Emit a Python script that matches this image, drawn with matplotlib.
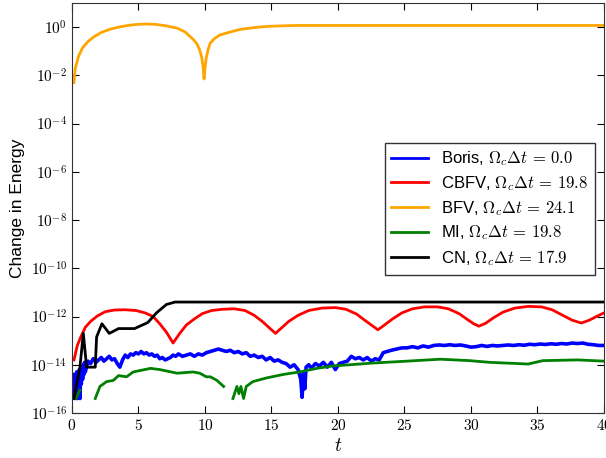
import matplotlib.pyplot as plt
import matplotlib.ticker as mticker
import numpy as np

plt.rcParams['mathtext.fontset'] = 'cm'
plt.rcParams['font.family'] = ['Liberation Sans', 'DejaVu Sans']

# values, stored as log10(change in energy)
t_bfv = [0.15, 0.25, 0.5, 0.8, 1.2, 1.6, 2.2, 2.9, 3.5, 4.1, 4.8, 5.5, 6.2, 7.0, 7.9, 8.5,
         9.1, 9.4, 9.6, 9.75, 9.85, 9.93, 10.0, 10.1, 10.25, 10.4, 10.7, 11.1, 11.9, 12.6,
         13.5, 14.4, 15.5, 16.9, 20.0, 40.0]
e_bfv = [-2.3, -1.7, -1.2, -0.85, -0.6, -0.42, -0.22, -0.08, 0.0, 0.06, 0.11, 0.13, 0.12, 0.06,
         -0.04, -0.2, -0.5, -0.7, -0.95, -1.25, -1.6, -2.15, -1.7, -1.25, -0.9, -0.66, -0.48,
         -0.33, -0.2, -0.1, -0.03, 0.02, 0.05, 0.07, 0.07, 0.07]

t_cbfv = [0.15, 0.4, 0.7, 1.0, 1.4, 1.9, 2.5, 3.2, 4.0, 4.8, 5.5, 6.1, 6.6, 7.1, 7.6, 8.1,
          8.6, 9.2, 9.8, 10.5, 11.3, 12.2, 13.0, 13.7, 14.3, 14.8, 15.3, 15.8, 16.3, 17.0,
          17.8, 18.8, 19.8, 20.6, 21.4, 22.0, 22.5, 23.0, 23.5, 24.1, 24.8, 25.6, 26.5, 27.5,
          28.3, 29.1, 29.8, 30.2, 30.6, 31.1, 31.7, 32.4, 33.3, 34.3, 35.3, 36.1, 36.9, 37.6,
          38.3, 38.9, 39.5, 40.0]
e_cbfv = [-13.8, -13.2, -12.8, -12.45, -12.2, -11.98, -11.8, -11.73, -11.72, -11.75, -11.85,
          -12.0, -12.3, -12.65, -13.1, -12.7, -12.35, -12.1, -11.88, -11.75, -11.7, -11.68,
          -11.75, -11.95, -12.2, -12.45, -12.7, -12.45, -12.2, -11.95, -11.75, -11.65, -11.63,
          -11.7, -11.9, -12.15, -12.35, -12.55, -12.35, -12.1, -11.85, -11.68, -11.6, -11.6,
          -11.68, -11.88, -12.15, -12.3, -12.4, -12.28, -12.05, -11.82, -11.65, -11.58, -11.6,
          -11.72, -11.95, -12.15, -12.27, -12.15, -11.98, -11.85]

t_cn = [0.15, 0.6, 0.85, 1.1, 1.75, 1.85, 2.25, 2.8, 3.5, 4.7, 5.7, 6.35, 7.1, 7.75, 40.0]
e_cn = [-15.4, -14.1, -12.7, -14.1, -14.1, -12.85, -12.3, -12.7, -12.5, -12.5, -12.25,
        -11.85, -11.5, -11.4, -11.4]

t_boris = [0.1, 0.15, 0.2, 0.25, 0.3, 0.35, 0.4, 0.45, 0.5, 0.55, 0.6, 0.65, 0.7, 0.75, 0.8,
           0.85, 0.9, 0.95, 1.0, 1.2, 1.4, 1.6, 1.8, 2.0, 2.2, 2.4, 2.6, 2.8, 3.0, 3.2, 3.4,
           3.6, 3.8, 4.0, 4.2, 4.4, 4.6, 4.8, 5.0, 5.2, 5.4, 5.6, 5.8, 6.0, 6.2, 6.4, 6.6, 6.8,
           7.0, 7.2, 7.4, 7.6, 7.8, 8.0, 8.3, 8.6, 8.9, 9.2, 9.5, 9.8, 10.1, 10.4, 10.7, 11.0,
           11.3, 11.6, 11.9, 12.2, 12.5, 12.8, 13.1, 13.4, 13.7, 14.0, 14.3, 14.6, 14.9, 15.2,
           15.5, 15.8, 16.1, 16.4, 16.7, 17.0, 17.2, 17.3, 17.4, 17.5, 17.6, 17.8, 18.0, 18.3,
           18.6, 18.9, 19.2, 19.5, 19.8, 20.1, 20.4, 20.7, 21.0, 21.3, 21.6, 21.9, 22.2, 22.5,
           22.8, 23.1, 23.4, 23.7, 24.0, 24.4, 24.8, 25.2, 25.6, 26.0, 26.4, 26.8, 27.2, 27.6,
           28.0, 28.4, 28.8, 29.2, 29.6, 30.0, 30.4, 30.8, 31.2, 31.6, 32.0, 32.4, 32.8, 33.2,
           33.6, 34.0, 34.4, 34.8, 35.2, 35.6, 36.0, 36.4, 36.8, 37.2, 37.6, 38.0, 38.4, 38.8,
           39.2, 39.6, 40.0]
e_boris = [-15.3, -14.4, -15.4, -14.6, -15.2, -14.3, -15.4, -14.5, -14.9, -14.2, -15.4, -14.4,
           -14.8, -14.1, -14.6, -14.0, -14.4, -13.9, -14.3, -13.85, -13.95, -13.75, -13.9,
           -13.8, -13.7, -13.85, -13.75, -13.65, -13.8, -13.75, -13.95, -14.1, -13.8, -13.6,
           -13.7, -13.55, -13.6, -13.5, -13.55, -13.45, -13.55, -13.5, -13.6, -13.55, -13.65,
           -13.6, -13.75, -13.7, -13.8, -13.75, -13.7, -13.6, -13.65, -13.55, -13.65, -13.6,
           -13.55, -13.65, -13.55, -13.6, -13.5, -13.45, -13.4, -13.35, -13.4, -13.45, -13.4,
           -13.5, -13.45, -13.55, -13.5, -13.65, -13.6, -13.7, -13.65, -13.8, -13.7, -13.85,
           -13.8, -13.9, -13.95, -14.1, -14.0, -14.2, -14.6, -15.35, -14.3, -15.0, -14.1, -14.0,
           -14.15, -13.95, -14.05, -13.9, -14.1, -13.9, -14.2, -13.95, -13.9, -13.85, -13.65,
           -13.75, -13.7, -13.8, -13.7, -13.85, -13.75, -13.8, -13.5, -13.45, -13.4, -13.35,
           -13.3, -13.3, -13.25, -13.3, -13.22, -13.27, -13.2, -13.18, -13.2, -13.17, -13.2,
           -13.18, -13.22, -13.27, -13.25, -13.2, -13.24, -13.2, -13.22, -13.2, -13.18, -13.2,
           -13.17, -13.19, -13.15, -13.17, -13.14, -13.16, -13.13, -13.15, -13.12, -13.14,
           -13.1, -13.12, -13.1, -13.15, -13.17, -13.2, -13.2]

# nan = value below the axis (gap in the curve)
t_mi = [0.3, 0.6, 0.7, 1.75, 2.1, 2.6, 3.1, 3.5, 4.1, 4.6, 5.9, 6.6, 7.9, 9.1, 9.6, 10.1,
        10.4, 10.9, 11.4, 11.8, 12.1, 12.4, 12.55, 12.7, 12.9, 13.1, 13.6, 14.6, 15.9, 17.1,
        18.4, 19.6, 20.9, 22.6, 25.2, 27.7, 29.9, 31.4, 34.3, 35.4, 38.0, 40.0]
e_mi = [-15.4, -15.05, np.nan, -15.4, -14.9, -14.7, -14.65, -14.45, -14.5, -14.3, -14.15,
        -14.2, -14.35, -14.3, -14.35, -14.5, -14.5, -14.65, -14.9, np.nan, -15.4, -14.9,
        -15.2, -14.9, -15.4, -14.9, -14.7, -14.55, -14.4, -14.3, -14.15, -14.05, -14.0,
        -13.93, -13.85, -13.77, -13.83, -13.9, -13.97, -13.83, -13.8, -13.85]

labels = [r'Boris, $\Omega_c\Delta t\,=\,0.0$', r'CBFV, $\Omega_c\Delta t\,=\,19.8$',
          r'BFV, $\Omega_c\Delta t\,=\,24.1$', r'MI, $\Omega_c\Delta t\,=\,19.8$',
          r'CN, $\Omega_c\Delta t\,=\,17.9$']

fig = plt.figure(figsize=(6.06, 4.58), dpi=100)
ax = fig.add_axes([0.1188, 0.0983, 0.8779, 0.8951])

ax.semilogy(t_boris, 10.0 ** np.array(e_boris), color='blue', lw=2.6, label=labels[0])
ax.semilogy(t_cbfv, 10.0 ** np.array(e_cbfv), color='red', lw=2, label=labels[1])
ax.semilogy(t_bfv, 10.0 ** np.array(e_bfv), color='orange', lw=2, label=labels[2])
ax.semilogy(t_mi, 10.0 ** np.array(e_mi), color='green', lw=2, label=labels[3])
ax.semilogy(t_cn, 10.0 ** np.array(e_cn), color='black', lw=2, label=labels[4])

ax.set_xlim(0, 40)
ax.set_ylim(1e-16, 1e1)
ax.set_yticks([10.0 ** k for k in range(-16, 1, 2)])
ax.yaxis.set_minor_locator(mticker.NullLocator())
ax.yaxis.set_major_formatter(
    mticker.FuncFormatter(lambda v, p: r'$10^{%d}$' % int(round(np.log10(v)))))
ax.set_xticks(range(0, 41, 5))
ax.xaxis.set_major_formatter(mticker.FuncFormatter(lambda v, p: f'${v:g}$'))
ax.tick_params(direction='in', top=True, right=True, length=5, labelsize=11)
for s in ax.spines.values():
    s.set_color('#333333')

ax.set_xlabel(r'$t$', fontsize=14)
ax.set_ylabel('Change in Energy', fontsize=12.5)

leg = ax.legend(loc='upper right', bbox_to_anchor=(0.983, 0.659), borderaxespad=0,
                fontsize=12, fancybox=False, handlelength=2.2, labelspacing=0.35)
leg.get_frame().set_edgecolor('black')
leg.get_frame().set_linewidth(1.0)
for h in leg.get_lines():
    h.set_linewidth(2)

fig.savefig('out.png', dpi=100)
